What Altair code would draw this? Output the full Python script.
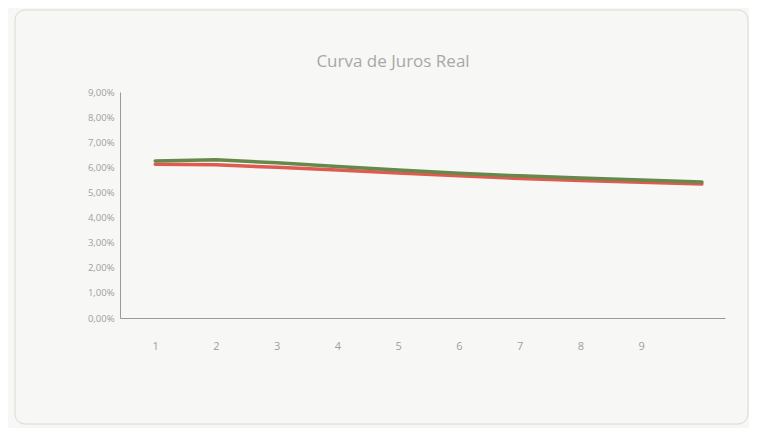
import altair as alt
import pandas as pd

vertices = [1, 2, 3, 4, 5, 6, 7, 8, 9, 10]
x_labels = [1, 2, 3, 4, 5, 6, 7, 8, 9]
green_vals = [6.25, 6.30, 6.18, 6.03, 5.89, 5.76, 5.66, 5.58, 5.50, 5.42]
red_vals = [6.12, 6.10, 6.00, 5.89, 5.77, 5.66, 5.56, 5.48, 5.41, 5.34]
series_names = ["Série 1", "Série 2"]
series_colors = ["#e05a50", "#66884a"]
title_text = "Curva de Juros Real"

rows = []
for name, vals in zip(series_names, [red_vals, green_vals]):
    for v, y in zip(vertices, vals):
        rows.append({"vertice": v, "taxa": y / 100, "serie": name})
df = pd.DataFrame(rows)

border = alt.Chart(pd.DataFrame({"a": [0]})).mark_rect(
    fill=None, stroke="#d8d8d4", strokeWidth=1, cornerRadius=10
).encode(
    x=alt.value(-105), x2=alt.value(628), y=alt.value(-82), y2=alt.value(332)
)

title = alt.Chart(pd.DataFrame({"t": [title_text]})).mark_text(
    font="Open Sans", fontSize=17, color="#a8a8a8", align="center", baseline="middle"
).encode(text="t:N", x=alt.value(273), y=alt.value(-30))

lines = alt.Chart(df).mark_line(strokeWidth=3.5, strokeCap="round").encode(
    x=alt.X("vertice:Q",
            scale=alt.Scale(domain=[0.42, 10.38], nice=False, zero=False),
            axis=alt.Axis(values=x_labels, title=None,
                          grid=False, ticks=False, labelPadding=22,
                          domainColor="#9a9a9a", labelColor="#a0a0a0",
                          labelFontSize=11, labelFont="Open Sans")),
    y=alt.Y("taxa:Q",
            scale=alt.Scale(domain=[0, 0.09], nice=False),
            axis=alt.Axis(values=[0, 0.01, 0.02, 0.03, 0.04, 0.05, 0.06, 0.07, 0.08, 0.09],
                          labelExpr="replace(format(datum.value*100, '.2f'), '.', ',') + '%'",
                          title=None, grid=False, ticks=False, labelPadding=6,
                          domainColor="#9a9a9a", labelColor="#a0a0a0",
                          labelFontSize=9.5, labelFont="Open Sans")),
    color=alt.Color("serie:N", scale=alt.Scale(domain=series_names, range=series_colors), legend=None),
    order=alt.Order("serie:N"),
)

chart = alt.layer(border, title, lines).properties(
    width=605, height=226,
    autosize=alt.AutoSizeParams(type="none"),
    padding={"left": 112, "top": 84, "right": 24, "bottom": 110},
    background="#f7f7f5",
).configure_view(stroke=None)

chart.save("out.html", embed_options={"renderer": "svg", "actions": False})
